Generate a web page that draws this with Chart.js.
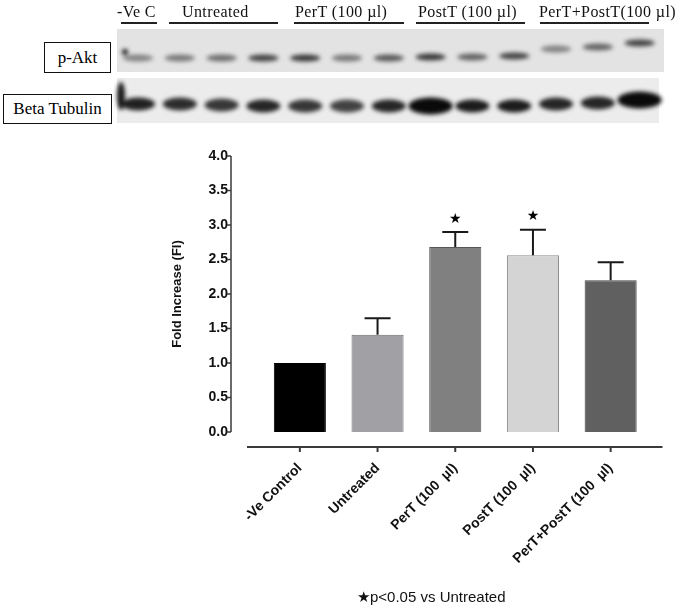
<!DOCTYPE html>
<html>
<head>
<meta charset="utf-8">
<script src="https://cdn.jsdelivr.net/npm/chart.js@4.4.0/dist/chart.umd.min.js"></script>
<style>
  html, body { margin: 0; padding: 0; background: #fff; }
  #wrap { position: relative; width: 692px; height: 608px; overflow: hidden; }
  #blot, #chart { position: absolute; left: 0; top: 0; }
  .hdr { position: absolute; top: 4px; font-family: "Liberation Serif", serif; font-size: 16px; line-height: 16px; letter-spacing: 0.4px; white-space: nowrap; color: #111; }
  .uline { position: absolute; top: 22px; height: 1.5px; background: #222; }
  .box { position: absolute; border: 1.5px solid #111; box-sizing: border-box; background: #fff;
         font-family: "Liberation Serif", serif; font-size: 17px; display: flex; align-items: center; justify-content: center; }
  #note { position: absolute; left: 357px; top: 588px; font-family: "Liberation Sans", Arial, sans-serif; font-size: 15px; color: #111; white-space: nowrap; }
</style>
</head>
<body>
<div id="wrap">
  <canvas id="blot" width="692" height="130"></canvas>
  <canvas id="chart" width="692" height="608"></canvas>

  <div class="hdr" style="left:117px">-Ve C</div>
  <div class="hdr" style="left:182px">Untreated</div>
  <div class="hdr" style="left:295px">PerT (100 µl)</div>
  <div class="hdr" style="left:418px">PostT (100 µl)</div>
  <div class="hdr" style="left:539px">PerT+PostT(100 µl)</div>
  <div class="uline" style="left:121px;width:36px"></div>
  <div class="uline" style="left:169px;width:109px"></div>
  <div class="uline" style="left:294px;width:110px"></div>
  <div class="uline" style="left:416px;width:109px"></div>
  <div class="uline" style="left:540px;width:109px"></div>

  <div class="box" style="left:44px;top:42px;width:67px;height:31px">p-Akt</div>
  <div class="box" style="left:3px;top:94px;width:109px;height:30px">Beta Tubulin</div>

  <div id="note">★p&lt;0.05 vs Untreated</div>
</div>

<script>
// Chart data
const categories = ['-Ve Control', 'Untreated', 'PerT (100  µl)', 'PostT (100  µl)', 'PerT+PostT (100  µl)'];
const foldIncrease = [1.0, 1.41, 2.68, 2.56, 2.2];
const semValues = [0, 0.24, 0.22, 0.37, 0.26];
const significant = [false, false, true, true, false];
const yTickValues = [0, 0.5, 1, 1.5, 2, 2.5, 3, 3.5, 4];
const barColors = ['#000000', '#a1a1a5', '#808080', '#d4d4d4', '#606060'];
const barEdges = ['#000000', '#6e6e70', '#555555', '#8a8a8a', '#404040'];

// Blot lanes (picture at the top)
const aktLevel = [0.45, 0.5, 0.55, 0.75, 0.8, 0.5, 0.65, 0.8, 0.6, 0.75, 0.45, 0.6, 0.75];
const aktRow = [58, 58, 58, 58, 58, 58, 58, 57, 57, 56, 49, 47, 43];
const tubLevel = [0.9, 0.85, 0.8, 0.88, 0.8, 0.75, 0.88, 1, 0.92, 0.92, 0.88, 0.88, 1];
const tubRow = [104, 104, 105, 106, 106, 106, 106, 106, 106, 106, 104, 103, 100];

// draw the blot strips
const bctx = document.getElementById('blot').getContext('2d');
bctx.fillStyle = '#e3e3e3';
bctx.fillRect(117, 29, 547, 43);
bctx.fillStyle = '#ececec';
bctx.fillRect(117, 78, 542, 45);

bctx.save();
bctx.filter = 'blur(2px)';
aktLevel.forEach((lv, i) => {
  const cx = 138 + i * 41.8;
  bctx.fillStyle = `rgba(15,15,15,${lv})`;
  bctx.beginPath();
  bctx.ellipse(cx, aktRow[i], 15, 3.6, 0, 0, Math.PI * 2);
  bctx.fill();
});
tubLevel.forEach((lv, i) => {
  const cx = 138 + i * 41.8;
  const big = lv >= 1 ? 1.3 : 1;
  bctx.fillStyle = `rgba(10,10,10,${lv})`;
  bctx.beginPath();
  bctx.ellipse(cx, tubRow[i], 17 * big, 6.5 * big, 0, 0, Math.PI * 2);
  bctx.fill();
});
// dark spots at the left edge of lane 1
bctx.fillStyle = 'rgba(0,0,0,0.9)';
bctx.beginPath(); bctx.ellipse(125, 52, 3, 3, 0, 0, Math.PI * 2); bctx.fill();
bctx.beginPath(); bctx.ellipse(121, 96, 4, 14, 0, 0, Math.PI * 2); bctx.fill();
bctx.restore();

// error bars and stars
const errorBars = {
  id: 'errorBars',
  afterDatasetsDraw(chart) {
    const { ctx, scales: { y } } = chart;
    const bars = chart.getDatasetMeta(0).data;
    ctx.save();
    ctx.strokeStyle = '#1a1a1a';
    ctx.lineWidth = 2;
    bars.forEach((bar, i) => {
      const top = y.getPixelForValue(foldIncrease[i]);
      const cap = y.getPixelForValue(foldIncrease[i] + semValues[i]);
      if (semValues[i] > 0) {
        ctx.beginPath();
        ctx.moveTo(bar.x, top);
        ctx.lineTo(bar.x, cap);
        ctx.moveTo(bar.x - 13, cap);
        ctx.lineTo(bar.x + 13, cap);
        ctx.stroke();
      }
      if (significant[i]) {
        ctx.fillStyle = '#000';
        ctx.font = '14px "DejaVu Sans"';
        ctx.textAlign = 'center';
        ctx.textBaseline = 'middle';
        ctx.fillText('★', bar.x, cap - 13);
      }
    });
    ctx.restore();
  }
};

// detached axes, Prism style
const prismAxes = {
  id: 'prismAxes',
  afterDraw(chart) {
    const { ctx, chartArea, scales: { x, y } } = chart;
    const axisX = chartArea.left - 30;
    const axisY = chartArea.bottom + 15;
    ctx.save();
    ctx.strokeStyle = '#3a3a3a';
    ctx.lineWidth = 1.5;
    ctx.beginPath();
    ctx.moveTo(axisX, y.getPixelForValue(yTickValues[yTickValues.length - 1]));
    ctx.lineTo(axisX, y.getPixelForValue(0));
    y.ticks.forEach(t => {
      const py = y.getPixelForValue(t.value);
      ctx.moveTo(axisX - 4, py);
      ctx.lineTo(axisX, py);
    });
    ctx.stroke();

    ctx.lineWidth = 2;
    ctx.beginPath();
    ctx.moveTo(chartArea.left - 14, axisY);
    ctx.lineTo(chartArea.right + 13, axisY);
    categories.forEach((c, i) => {
      const px = x.getPixelForValue(i);
      ctx.moveTo(px, axisY);
      ctx.lineTo(px, axisY + 5);
    });
    ctx.stroke();
    ctx.restore();
  }
};

new Chart(document.getElementById('chart'), {
  type: 'bar',
  data: {
    labels: categories,
    datasets: [{
      data: foldIncrease,
      backgroundColor: barColors,
      borderColor: barEdges,
      borderWidth: 1,
      barPercentage: 0.67,
      categoryPercentage: 1
    }]
  },
  options: {
    responsive: false,
    animation: false,
    layout: { padding: { top: 156, left: 0, right: 42.5, bottom: 0 } },
    plugins: { legend: { display: false }, tooltip: { enabled: false } },
    scales: {
      x: {
        grid: { display: false, drawTicks: false },
        border: { display: false },
        afterFit: s => { s.height = 176; },
        ticks: {
          autoSkip: false,
          maxRotation: 45,
          minRotation: 45,
          padding: 28,
          color: '#111',
          font: { family: 'Liberation Sans', size: 14, weight: 'bold' }
        }
      },
      y: {
        min: 0,
        max: 4,
        grid: { display: false, drawTicks: false },
        border: { display: false },
        afterFit: s => { s.width = 261; },
        afterBuildTicks: s => { s.ticks = yTickValues.map(v => ({ value: v })); },
        ticks: {
          padding: 33,
          color: '#111',
          font: { family: 'Liberation Sans', size: 14, weight: 'bold' },
          callback: v => v.toFixed(1)
        },
        title: {
          display: true,
          text: 'Fold Increase (FI)',
          color: '#111',
          padding: { top: 170, bottom: 0 },
          font: { family: 'Liberation Sans', size: 13, weight: 'bold' }
        }
      }
    }
  },
  plugins: [errorBars, prismAxes]
});
</script>
</body>
</html>
